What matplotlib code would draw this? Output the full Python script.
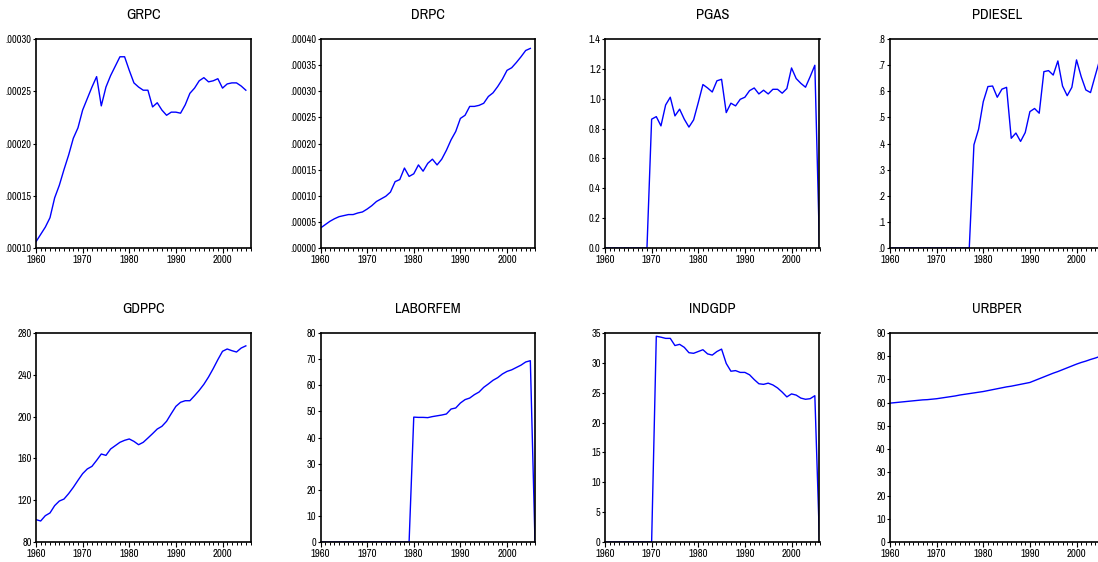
import matplotlib
matplotlib.use('Agg')
import matplotlib.pyplot as plt
from matplotlib.ticker import MultipleLocator

plt.rcParams['font.family'] = ['Liberation Sans Narrow', 'Archivo Narrow', 'DejaVu Sans']

years = list(range(1960, 2007))

# series (1960..2005, some with the 2006 drop to zero)
grpc = [0.000106, 0.000113, 0.000120, 0.000129, 0.000148, 0.000160, 0.000175, 0.000189,
        0.000205, 0.000215, 0.000232, 0.000243, 0.000254, 0.000264, 0.000236, 0.000254,
        0.000265, 0.000274, 0.000283, 0.000283, 0.000270, 0.000258, 0.000254, 0.000251,
        0.000251, 0.000235, 0.000239, 0.000232, 0.000227, 0.000230, 0.000230, 0.000229,
        0.000237, 0.000248, 0.000253, 0.000260, 0.000263, 0.000259, 0.000260, 0.000262,
        0.000253, 0.000257, 0.000258, 0.000258, 0.000255, 0.000251]
drpc = [0.0000382, 0.0000446, 0.000051, 0.000056, 0.000060, 0.000062, 0.000064, 0.000064,
        0.000067, 0.000069, 0.0000745, 0.000081, 0.000089, 0.000094, 0.000099, 0.000107,
        0.000127, 0.000131, 0.000153, 0.000137, 0.000142, 0.000159, 0.000147, 0.000162,
        0.000170, 0.000159, 0.000170, 0.000187, 0.000207, 0.000223, 0.000248, 0.000254,
        0.000271, 0.000271, 0.000273, 0.000277, 0.000290, 0.000297, 0.000309, 0.000323,
        0.000340, 0.000345, 0.000355, 0.000366, 0.000378, 0.000382]
pgas = [0.0] * 10 + [0.863, 0.880, 0.818, 0.958, 1.010, 0.885, 0.930, 0.863, 0.810, 0.858,
        0.974, 1.095, 1.072, 1.045, 1.120, 1.130, 0.907, 0.970, 0.952, 0.996,
        1.010, 1.054, 1.072, 1.032, 1.057, 1.032, 1.063, 1.063, 1.037, 1.068,
        1.206, 1.135, 1.103, 1.077, 1.148, 1.224, 0.0]
pdiesel = [0.0] * 18 + [0.395, 0.455, 0.560, 0.618, 0.620, 0.577, 0.608, 0.615, 0.420, 0.440,
           0.408, 0.442, 0.522, 0.534, 0.516, 0.675, 0.679, 0.662, 0.716, 0.620,
           0.583, 0.615, 0.720, 0.656, 0.605, 0.595, 0.659, 0.722]
gdppc = [101.4, 100.1, 105.2, 107.8, 114.8, 119.2, 121.1, 126.3, 132.3, 139.0,
         145.4, 149.9, 152.4, 158.1, 164.2, 162.9, 169.0, 172.2, 175.4, 177.3,
         178.6, 176.3, 173.1, 175.4, 179.5, 183.7, 188.1, 190.7, 195.5, 202.8,
         209.8, 213.7, 215.2, 215.2, 220.0, 225.1, 230.9, 237.9, 245.9, 254.5,
         262.5, 264.7, 263.1, 261.8, 265.6, 267.7]
laborfem = [0.0] * 20 + [47.8, 47.7, 47.7, 47.6, 48.0, 48.3, 48.6, 49.0, 50.9, 51.3,
            53.2, 54.5, 55.1, 56.4, 57.4, 59.2, 60.5, 61.9, 62.9, 64.3,
            65.3, 65.9, 66.8, 67.7, 68.9, 69.4, 0.0]
indgdp = [0.0] * 11 + [34.45, 34.3, 34.1, 34.1, 32.9, 33.1, 32.6, 31.7, 31.6,
          31.9, 32.2, 31.5, 31.3, 31.9, 32.3, 29.9, 28.6, 28.7, 28.4,
          28.4, 28.0, 27.2, 26.5, 26.4, 26.6, 26.3, 25.8, 25.1, 24.3,
          24.8, 24.6, 24.1, 23.9, 24.0, 24.5, 0.0]
urbper = [59.8, 60.0, 60.2, 60.4, 60.6, 60.8, 61.0, 61.2, 61.3, 61.5,
          61.7, 62.0, 62.3, 62.6, 62.9, 63.3, 63.6, 63.9, 64.2, 64.5,
          64.8, 65.2, 65.6, 66.0, 66.4, 66.8, 67.1, 67.5, 67.9, 68.3,
          68.7, 69.5, 70.3, 71.1, 71.9, 72.7, 73.4, 74.2, 75.0, 75.8,
          76.6, 77.3, 77.9, 78.6, 79.2, 79.9]

names = ['GRPC', 'DRPC', 'PGAS', 'PDIESEL', 'GDPPC', 'LABORFEM', 'INDGDP', 'URBPER']
series = [grpc, drpc, pgas, pdiesel, gdppc, laborfem, indgdp, urbper]

yticks = [
    [0.00010, 0.00015, 0.00020, 0.00025, 0.00030],
    [0.0, 0.00005, 0.00010, 0.00015, 0.00020, 0.00025, 0.00030, 0.00035, 0.00040],
    [0.0, 0.2, 0.4, 0.6, 0.8, 1.0, 1.2, 1.4],
    [0.0, 0.1, 0.2, 0.3, 0.4, 0.5, 0.6, 0.7, 0.8],
    [80, 120, 160, 200, 240, 280],
    [0, 10, 20, 30, 40, 50, 60, 70, 80],
    [0, 5, 10, 15, 20, 25, 30, 35],
    [0, 10, 20, 30, 40, 50, 60, 70, 80, 90],
]
ylabels = [
    ['.00010', '.00015', '.00020', '.00025', '.00030'],
    ['.00000', '.00005', '.00010', '.00015', '.00020', '.00025', '.00030', '.00035', '.00040'],
    ['0.0', '0.2', '0.4', '0.6', '0.8', '1.0', '1.2', '1.4'],
    ['.0', '.1', '.2', '.3', '.4', '.5', '.6', '.7', '.8'],
    ['80', '120', '160', '200', '240', '280'],
    ['0', '10', '20', '30', '40', '50', '60', '70', '80'],
    ['0', '5', '10', '15', '20', '25', '30', '35'],
    ['0', '10', '20', '30', '40', '50', '60', '70', '80', '90'],
]

W, H = 1098, 562
fig = plt.figure(figsize=(W / 100, H / 100), dpi=100)

lefts = [36, 320.5, 605, 890]
tops = [39, 333]
aw, ah = 214.5, 209

for i in range(8):
    r, c = divmod(i, 4)
    ax = fig.add_axes([lefts[c] / W, 1 - (tops[r] + ah) / H, aw / W, ah / H])
    y = series[i]
    ax.plot(years[:len(y)], y, color='#0000ff', lw=1.0)
    ax.set_xlim(1960, 2006)
    ax.set_ylim(yticks[i][0], yticks[i][-1])
    ax.xaxis.set_major_locator(MultipleLocator(10))
    ax.xaxis.set_minor_locator(MultipleLocator(1))
    ax.set_yticks(yticks[i])
    ax.set_yticklabels(ylabels[i])
    ax.tick_params(axis='x', which='major', direction='out', length=3.5, width=0.8,
                   labelsize=7.8, pad=1.5, top=False)
    ax.tick_params(axis='x', which='minor', direction='out', length=2.2, width=0.7, top=False)
    ax.tick_params(axis='y', direction='out', length=2.5, width=0.8, labelsize=7.5, pad=0.5,
                   right=False)
    for sp in ax.spines.values():
        sp.set_linewidth(1.2)
    ax.text(0.5, 1 + 24 / ah, names[i], transform=ax.transAxes, ha='center', va='center',
            fontsize=10.5)

fig.savefig('out.png', dpi=100)
